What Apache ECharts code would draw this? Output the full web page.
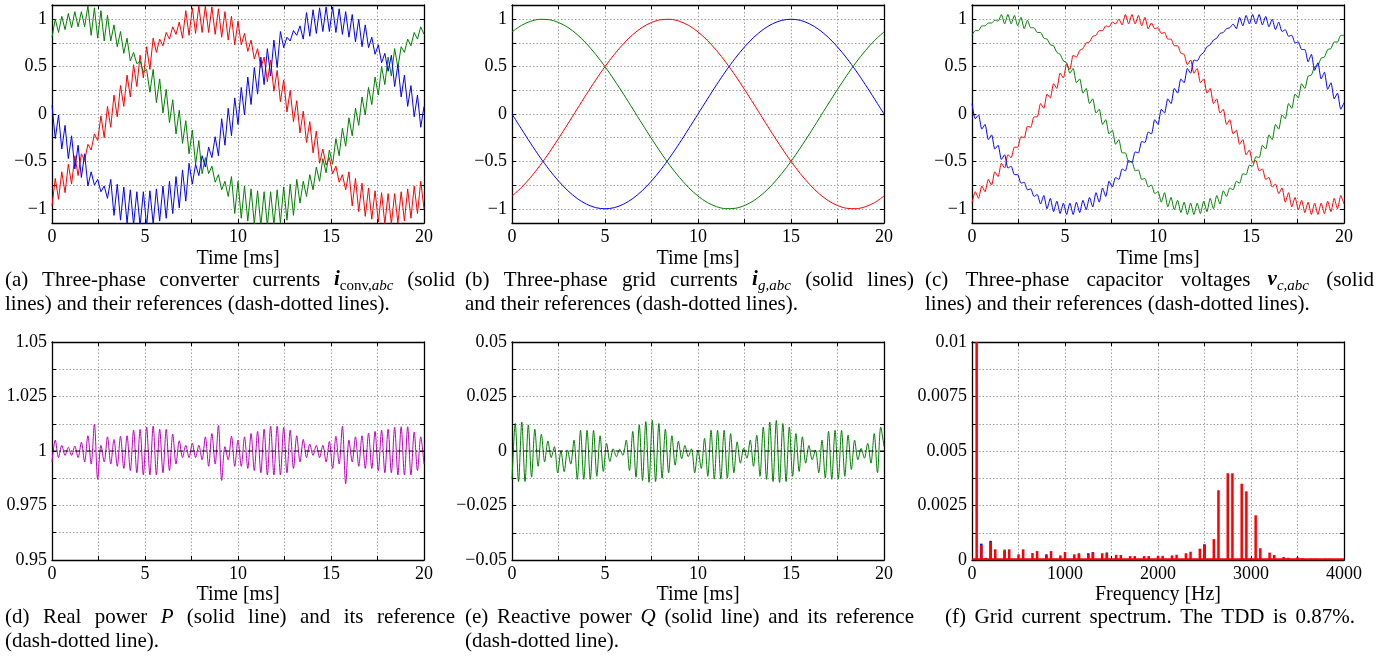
<!DOCTYPE html>
<html><head><meta charset="utf-8">
<script src="https://cdn.jsdelivr.net/npm/echarts@6/dist/echarts.min.js"></script>
<style>html,body{margin:0;padding:0;background:#fff}#c{width:1395px;height:656px}</style>
</head><body><div id="c"></div>
<script>
// ================= DATA =================
// sampling of the rippled waveforms: one value per half ripple period (0..20 ms)
const rippleSampleMs = 20 / 114;
const smoothSampleMs = 0.5;

// (a) converter currents
const iConvA = [-0.97,-0.68,-0.90,-0.61,-0.83,-0.53,-0.74,-0.44,-0.65,-0.42,-0.49,-0.32,-0.38,-0.21,-0.28,-0.02,-0.25,0.08,-0.14,0.20,-0.03,0.30,0.08,0.41,0.18,0.52,0.29,0.62,0.38,0.71,0.47,0.80,0.65,0.79,0.72,0.86,0.79,0.92,0.84,0.97,0.80,1.09,0.83,1.12,0.85,1.14,0.86,1.14,0.86,1.13,0.84,1.11,0.81,1.08,0.78,1.03,0.73,0.98,0.73,0.85,0.66,0.78,0.58,0.69,0.49,0.60,0.34,0.57,0.24,0.46,0.13,0.36,0.02,0.25,-0.08,0.14,-0.20,0.03,-0.30,-0.08,-0.41,-0.18,-0.52,-0.37,-0.54,-0.46,-0.63,-0.55,-0.72,-0.64,-0.80,-0.61,-0.97,-0.68,-1.03,-0.73,-1.08,-0.78,-1.11,-0.81,-1.14,-0.83,-1.16,-0.84,-1.16,-0.84,-1.15,-0.82,-1.13,-0.79,-1.10,-0.76,-1.05,-0.71,-1.00];
const iConvB = [0.81,1.00,0.86,1.03,0.89,1.06,0.91,1.08,0.92,1.08,0.92,1.14,0.83,1.12,0.80,1.09,0.77,1.04,0.77,0.94,0.71,0.87,0.64,0.80,0.56,0.65,0.53,0.56,0.44,0.47,0.23,0.47,0.12,0.37,0.01,0.26,-0.09,0.15,-0.21,0.04,-0.31,-0.07,-0.42,-0.17,-0.53,-0.28,-0.63,-0.46,-0.63,-0.55,-0.72,-0.64,-0.80,-0.71,-0.87,-0.66,-1.05,-0.71,-1.10,-0.76,-1.13,-0.79,-1.16,-0.81,-1.18,-0.82,-1.18,-0.82,-1.17,-0.80,-1.15,-0.77,-1.12,-0.74,-1.07,-0.69,-0.94,-0.71,-0.87,-0.64,-0.80,-0.56,-0.71,-0.47,-0.62,-0.38,-0.53,-0.26,-0.44,-0.15,-0.34,-0.04,-0.23,0.06,-0.12,0.18,-0.01,0.28,0.10,0.39,0.20,0.50,0.31,0.60,0.40,0.69,0.49,0.71,0.65,0.79,0.72,0.86,0.79,0.92,0.84];
const iConvC = [0.09,-0.26,-0.01,-0.37,-0.12,-0.47,-0.23,-0.58,-0.33,-0.67,-0.42,-0.76,-0.61,-0.75,-0.69,-0.82,-0.76,-0.89,-0.69,-1.07,-0.74,-1.12,-0.77,-1.15,-0.80,-1.17,-0.82,-1.18,-0.82,-1.18,-0.81,-1.16,-0.79,-1.13,-0.76,-1.10,-0.71,-1.05,-0.66,-0.99,-0.59,-0.92,-0.52,-0.74,-0.53,-0.65,-0.44,-0.56,-0.35,-0.46,-0.24,-0.44,-0.05,-0.33,0.06,-0.23,0.17,-0.11,0.28,-0.01,0.39,0.10,0.49,0.21,0.60,0.31,0.69,0.40,0.78,0.49,0.87,0.70,0.81,0.77,0.88,0.83,0.93,0.79,1.07,0.82,1.10,0.85,1.12,0.87,1.13,0.87,1.13,0.86,1.11,0.84,1.08,0.81,1.05,0.76,1.00,0.71,0.94,0.70,0.81,0.63,0.73,0.54,0.64,0.45,0.62,0.29,0.52,0.18,0.41,0.08,0.30,-0.03,0.20,-0.14,0.08];

// (b) grid currents (0.5 ms samples)
const iGridA = [-0.866,-0.777,-0.669,-0.545,-0.407,-0.259,-0.105,0.052,0.208,0.358,0.5,0.629,0.743,0.839,0.914,0.966,0.995,0.999,0.978,0.934,0.866,0.777,0.669,0.545,0.407,0.259,0.105,-0.052,-0.208,-0.358,-0.5,-0.629,-0.743,-0.839,-0.914,-0.966,-0.995,-0.999,-0.978,-0.934,-0.866];
const iGridB = [0.866,0.934,0.978,0.999,0.995,0.966,0.914,0.839,0.743,0.629,0.5,0.358,0.208,0.052,-0.105,-0.259,-0.407,-0.545,-0.669,-0.777,-0.866,-0.934,-0.978,-0.999,-0.995,-0.966,-0.914,-0.839,-0.743,-0.629,-0.5,-0.358,-0.208,-0.052,0.105,0.259,0.407,0.545,0.669,0.777,0.866];
const iGridC = [0,-0.156,-0.309,-0.454,-0.588,-0.707,-0.809,-0.891,-0.951,-0.988,-1,-0.988,-0.951,-0.891,-0.809,-0.707,-0.588,-0.454,-0.309,-0.156,0,0.156,0.309,0.454,0.588,0.707,0.809,0.891,0.951,0.988,1,0.988,0.951,0.891,0.809,0.707,0.588,0.454,0.309,0.156,0];

// (c) capacitor voltages
const vCapA = [-0.94,-0.82,-0.89,-0.76,-0.82,-0.69,-0.75,-0.61,-0.66,-0.52,-0.57,-0.43,-0.46,-0.35,-0.35,-0.24,-0.25,-0.13,-0.14,-0.03,-0.03,0.11,0.06,0.21,0.17,0.32,0.27,0.43,0.38,0.53,0.47,0.62,0.60,0.67,0.69,0.75,0.76,0.82,0.83,0.88,0.88,0.93,0.92,0.97,0.95,1.00,0.94,1.05,0.95,1.05,0.95,1.04,0.93,1.02,0.90,0.96,0.90,0.91,0.85,0.86,0.79,0.79,0.72,0.72,0.64,0.63,0.52,0.57,0.43,0.48,0.33,0.37,0.22,0.27,0.11,0.16,0.01,0.05,-0.11,-0.06,-0.21,-0.17,-0.32,-0.27,-0.43,-0.38,-0.51,-0.49,-0.60,-0.58,-0.69,-0.67,-0.77,-0.74,-0.84,-0.78,-0.93,-0.83,-0.98,-0.88,-1.01,-0.91,-1.04,-0.93,-1.06,-0.94,-1.06,-0.94,-1.05,-0.92,-1.03,-0.89,-1.00,-0.86,-0.95];
const vCapB = [0.83,0.88,0.88,0.93,0.93,0.96,0.96,0.99,0.98,1.05,0.95,1.05,0.95,1.04,0.93,1.02,0.90,0.99,0.91,0.91,0.86,0.86,0.80,0.79,0.73,0.72,0.65,0.63,0.56,0.54,0.43,0.48,0.33,0.37,0.22,0.27,0.11,0.16,0.01,0.05,-0.11,-0.06,-0.21,-0.17,-0.32,-0.27,-0.41,-0.41,-0.51,-0.50,-0.60,-0.59,-0.69,-0.68,-0.77,-0.75,-0.84,-0.82,-0.93,-0.83,-0.98,-0.88,-1.01,-0.91,-1.04,-0.93,-1.06,-0.94,-1.06,-0.94,-1.05,-0.92,-1.03,-0.89,-1.00,-0.86,-0.95,-0.81,-0.87,-0.78,-0.80,-0.71,-0.73,-0.63,-0.64,-0.54,-0.55,-0.45,-0.46,-0.33,-0.37,-0.22,-0.27,-0.11,-0.16,-0.01,-0.05,0.11,0.06,0.21,0.17,0.32,0.27,0.40,0.41,0.50,0.51,0.59,0.60,0.68,0.69,0.76,0.76,0.83,0.83];
const vCapC = [0.11,-0.05,-0.01,-0.16,-0.11,-0.27,-0.22,-0.37,-0.33,-0.48,-0.43,-0.57,-0.55,-0.64,-0.64,-0.73,-0.72,-0.80,-0.79,-0.87,-0.85,-0.95,-0.86,-1.00,-0.89,-1.03,-0.92,-1.05,-0.94,-1.06,-0.94,-1.06,-0.93,-1.04,-0.91,-1.01,-0.88,-0.98,-0.83,-0.93,-0.78,-0.87,-0.71,-0.77,-0.67,-0.69,-0.58,-0.60,-0.49,-0.51,-0.40,-0.41,-0.29,-0.30,-0.19,-0.21,-0.06,-0.11,0.05,0.01,0.16,0.11,0.27,0.22,0.37,0.33,0.48,0.43,0.57,0.56,0.62,0.65,0.71,0.73,0.78,0.80,0.85,0.86,0.90,0.91,0.95,0.90,1.02,0.93,1.04,0.95,1.05,0.95,1.05,0.94,1.03,0.92,1.00,0.89,0.97,0.87,0.89,0.82,0.83,0.75,0.76,0.68,0.68,0.55,0.63,0.46,0.54,0.37,0.44,0.26,0.33,0.16,0.22,0.05,0.12];

// (d) real power and (e) reactive power
const realPower = [0.995,1.005,0.997,1.0026,0.998,1.0017,0.998,1.0023,0.997,1.004,0.995,1.007,0.994,1.0123,0.987,1.0026,0.995,1.0065,0.994,1.0053,0.993,1.0068,0.992,1.007,0.991,1.0096,0.99,1.0099,0.989,1.011,0.989,1.0114,0.989,1.01,0.99,1.0099,0.991,1.0078,0.994,1.0047,0.997,1.0026,0.997,1.0035,0.997,1.0026,0.996,1.0065,0.993,1.008,0.994,1.0117,0.9865,1.002,0.996,1.0068,0.993,1.005,0.993,1.0065,0.992,1.008,0.991,1.009,0.99,1.01,0.989,1.0114,0.989,1.0114,0.989,1.0108,0.99,1.0096,0.992,1.007,0.995,1.0053,0.997,1.0032,0.998,1.0026,0.997,1.0026,0.995,1.0044,0.992,1.0068,0.994,1.0114,0.985,1.005,0.995,1.0065,0.993,1.007,0.992,1.0082,0.992,1.009,0.991,1.0096,0.99,1.01,0.99,1.0108,0.989,1.0111,0.989,1.0111,0.989,1.0087,0.991,1.0065,0.994];
const reactivePower = [-0.013,0.0126,-0.014,0.0133,-0.014,0.012,-0.012,0.01,-0.007,0.0077,-0.005,0.0046,-0.003,0.002,-0.01,0,-0.0095,0.0005,-0.006,0.005,-0.013,0.0095,-0.013,0.0095,-0.013,0.0095,-0.0116,0.007,-0.0094,0.0035,-0.0048,0.001,-0.0026,0.0008,-0.002,0.005,-0.009,0.009,-0.012,0.012,-0.0135,0.0135,-0.0144,0.014,-0.014,0.0126,-0.0125,0.01,-0.01,0.007,-0.0065,0.0045,-0.0035,0.0025,-0.0026,0.001,-0.01,0.0005,-0.008,0.0058,-0.0116,0.0095,-0.0129,0.0095,-0.0129,0.0095,-0.0125,0.008,-0.01,0.0042,-0.0056,0.0012,-0.0033,0.005,-0.007,0.0073,-0.0116,0.011,-0.013,0.0133,-0.014,0.014,-0.0144,0.0126,-0.014,0.011,-0.0116,0.008,-0.0094,0.0065,-0.0056,0.0025,-0.004,0.0005,-0.01,0.005,-0.0124,0.009,-0.013,0.0095,-0.0129,0.0095,-0.0116,0.0073,-0.0085,0.005,-0.004,0.0012,-0.0033,0.0035,-0.0056,0.008,-0.01,0.011,0.002];
const refTime = [0, 20];
const realPowerRef = [1, 1];
const reactivePowerRef = [0, 0];

// (f) grid current spectrum: harmonics of 50 Hz (order 1..79)
const fundamentalHz = 50;
const specRed = [1.0,0.00068,0.00005,0.00082,0.00049,0.00003,0.00042,0.00049,0.00003,0.00026,0.00049,0.00003,0.00032,0.00041,0.00003,0.0002,0.00041,0.00003,0.00021,0.00037,0.00003,0.00026,0.00028,0.00003,0.00026,0.00035,0.00003,0.00031,0.00032,0.00003,0.00024,0.00023,0.00003,0.00018,0.00018,0.00003,0.00018,0.00018,0.00003,0.00019,0.00019,0.00003,0.00021,0.00024,0.00003,0.00031,0.00038,0.00003,0.00052,0.0007,0.00003,0.00096,0.0032,0.00003,0.00398,0.00398,0.00003,0.0035,0.00315,0.0001,0.00205,0.00054,0.00003,0.00034,0.00023,0.00003,0.00014,0.0001,0.00002,0.00012,0.00008,0.00002,0.00006,0.00006,0.00002,0.00006,0.00006,0.00002,0.00002];
const specBlueHz = [100, 200, 800, 1250, 1300, 2500];
const specBlue = [0.00075, 0.00088, 0.00026, 0.00031, 0.00036, 0.00072];
const specGreenHz = [150, 350, 1150, 1450];
const specGreen = [0.0001, 0.00048, 0.00031, 0.00035];
const specFloorHz = [0, 4000];
const specFloor = [0.00003, 0.00003];

// axis ticks
const timeAxis = {min: 0, max: 20, interval: 2.5, labelEvery: 5};
const freqAxis = {min: 0, max: 4000, interval: 500, labelEvery: 1000};
const phaseTicks = [-1, -0.75, -0.5, -0.25, 0, 0.25, 0.5, 0.75, 1];
const phaseAxis = {min: -1.15, max: 1.15, ticks: phaseTicks, labelEvery: 0.5};
const pAxis = {min: 0.95, max: 1.05, interval: 0.0125, labelEvery: 0.025};
const qAxis = {min: -0.05, max: 0.05, interval: 0.0125, labelEvery: 0.025};
const specAxis = {min: 0, max: 0.01, interval: 0.00125, labelEvery: 0.0025};

// ================= LAYOUT / STYLE =================
const SERIF = '"Liberation Serif", "Times New Roman", serif';
const RED = '#ff0000', GREEN = '#008000', BLUE = '#0000ff', MAG = '#c000c0';

const panels = [
  {left: 52,  top: 5,   x: timeAxis, y: phaseAxis, name: 'Time [ms]'},
  {left: 512, top: 5,   x: timeAxis, y: phaseAxis, name: 'Time [ms]'},
  {left: 972, top: 5,   x: timeAxis, y: phaseAxis, name: 'Time [ms]'},
  {left: 52,  top: 342, x: timeAxis, y: pAxis, name: 'Time [ms]'},
  {left: 512, top: 342, x: timeAxis, y: qAxis, name: 'Time [ms]'},
  {left: 972, top: 342, x: freqAxis, y: specAxis, name: 'Frequency [Hz]'}
];

function fmt(every) {
  return v => {
    const r = v / every;
    if (Math.abs(r - Math.round(r)) > 1e-6) return '';
    const s = String(+v.toFixed(6));
    return s === '-0' ? '0' : s.replace('-', '\u2212');
  };
}
function axisBase(cfg, gi, pos, main, extra) {
  const ax = Object.assign({
    type: 'value', gridIndex: gi, position: pos,
    min: cfg.min, max: cfg.max,
    axisLine: {show: true, onZero: false, lineStyle: {color: '#000', width: 1.3}},
    axisTick: {show: true, inside: true, length: 4, lineStyle: {color: '#000', width: 1}},
    splitLine: {show: main, lineStyle: {type: [1.5, 2], color: '#a0a0a0', width: 1}},
    axisLabel: main ? {show: true, formatter: fmt(cfg.labelEvery), fontFamily: SERIF, fontSize: 18, color: '#000'} : {show: false}
  }, extra || {});
  if (cfg.ticks) {
    ax.axisTick.customValues = cfg.ticks;
    if (main) ax.axisLabel.customValues = cfg.ticks.filter(v => Math.abs(v / cfg.labelEvery - Math.round(v / cfg.labelEvery)) < 1e-6);
  } else {
    ax.interval = cfg.interval;
  }
  return ax;
}

const grids = [], xAxes = [], yAxes = [];
panels.forEach((p, gi) => {
  grids.push({left: p.left, top: p.top, width: 372, height: 218, containLabel: false});
  xAxes.push(axisBase(p.x, gi, 'bottom', true, {
    name: p.name, nameLocation: 'middle', nameGap: gi < 3 ? 26 : 25,
    nameTextStyle: {fontFamily: SERIF, fontSize: 20, color: '#000'},
  }));
  xAxes[xAxes.length - 1].axisLabel.margin = 5;
  xAxes.push(axisBase(p.x, gi, 'top', false));
  yAxes.push(axisBase(p.y, gi, 'left', true));
  yAxes[yAxes.length - 1].axisLabel.margin = 5;
  yAxes.push(axisBase(p.y, gi, 'right', false));
});

function timed(vals, step) { return vals.map((v, i) => [+(i * step).toFixed(5), v]); }
function zipXY(xs, ys) { return xs.map((x, i) => [x, ys[i]]); }
function lineS(gi, data, color, extra) {
  return Object.assign({
    type: 'line', xAxisIndex: 2 * gi, yAxisIndex: 2 * gi, data,
    showSymbol: false, symbol: 'none', clip: true, animation: false,
    lineStyle: {color, width: 1}, itemStyle: {color}
  }, extra || {});
}
const refStyle = {color: '#000', width: 1.2, type: [5, 2.5, 1.5, 2.5]};

const series = [
  lineS(0, timed(iConvA, rippleSampleMs), RED),
  lineS(0, timed(iConvB, rippleSampleMs), GREEN),
  lineS(0, timed(iConvC, rippleSampleMs), BLUE),
  lineS(1, timed(iGridA, smoothSampleMs), RED, {smooth: 0.3}),
  lineS(1, timed(iGridB, smoothSampleMs), GREEN, {smooth: 0.3}),
  lineS(1, timed(iGridC, smoothSampleMs), BLUE, {smooth: 0.3}),
  lineS(2, timed(vCapA, rippleSampleMs), RED, {smooth: 0.2}),
  lineS(2, timed(vCapB, rippleSampleMs), GREEN, {smooth: 0.2}),
  lineS(2, timed(vCapC, rippleSampleMs), BLUE, {smooth: 0.2}),
  lineS(3, timed(realPower, rippleSampleMs), MAG, {smooth: 0.3}),
  lineS(3, zipXY(refTime, realPowerRef), '#000', {lineStyle: refStyle}),
  lineS(4, timed(reactivePower, rippleSampleMs), GREEN, {smooth: 0.3}),
  lineS(4, zipXY(refTime, reactivePowerRef), '#000', {lineStyle: refStyle}),
  lineS(5, zipXY(specFloorHz, specFloor), RED, {lineStyle: {color: RED, width: 2}}),
];
const barCommon = {type: 'bar', xAxisIndex: 10, yAxisIndex: 10, barWidth: 2.5, barGap: '-100%', animation: false, clip: true};
series.push(Object.assign({}, barCommon, {itemStyle: {color: BLUE}, data: zipXY(specBlueHz, specBlue)}));
series.push(Object.assign({}, barCommon, {itemStyle: {color: GREEN}, data: zipXY(specGreenHz, specGreen)}));
series.push(Object.assign({}, barCommon, {itemStyle: {color: RED}, data: specRed.map((v, i) => [(i + 1) * fundamentalHz, v])}));

// ================= CAPTIONS =================
const CAP = 21, SUB = 15;
const fonts = {
  n: `${CAP}px ${SERIF}`, i: `italic ${CAP}px ${SERIF}`, bi: `italic bold ${CAP}px ${SERIF}`,
  s: `${SUB}px ${SERIF}`, si: `italic ${SUB}px ${SERIF}`
};
const sizes = {n: CAP, i: CAP, bi: CAP, s: SUB, si: SUB};
const drops = {n: 0, i: 0, bi: 0, s: 4, si: 4};
const mctx = document.createElement('canvas').getContext('2d');
function segs(word) {
  const out = []; const re = /\{(\w+):([^}]*)\}|([^{]+)/g; let m;
  while ((m = re.exec(word))) out.push(m[1] ? [m[1], m[2]] : ['n', m[3]]);
  return out;
}
function width(st, t) { mctx.font = fonts[st]; return mctx.measureText(t).width; }
const captionLines = [
  {x0: 5, x1: 455, y: 287, j: true, t: '(a) Three-phase converter currents {bi:i}{s:conv,}{si:abc} (solid'},
  {x0: 5, x1: 455, y: 311, j: false, t: 'lines) and their references (dash-dotted lines).'},
  {x0: 465, x1: 914, y: 287, j: true, t: '(b) Three-phase grid currents {bi:i}{si:g,abc} (solid lines)'},
  {x0: 465, x1: 914, y: 311, j: false, t: 'and their references (dash-dotted lines).'},
  {x0: 925, x1: 1374, y: 287, j: true, t: '(c) Three-phase capacitor voltages {bi:v}{si:c,abc} (solid'},
  {x0: 925, x1: 1374, y: 311, j: false, t: 'lines) and their references (dash-dotted lines).'},
  {x0: 5, x1: 455, y: 624, j: true, t: '(d) Real power {i:P} (solid line) and its reference'},
  {x0: 5, x1: 455, y: 648, j: false, t: '(dash-dotted line).'},
  {x0: 465, x1: 914, y: 624, j: true, t: '(e) Reactive power {i:Q} (solid line) and its reference'},
  {x0: 465, x1: 914, y: 648, j: false, t: '(dash-dotted line).'},
  {x0: 945, x1: 1355, y: 624, j: true, t: '(f) Grid current spectrum. The TDD is 0.87%.'}
];
const graphics = [];
captionLines.forEach(L => {
  const words = L.t.split(' ').map(segs);
  const widths = words.map(w => w.reduce((a, s) => a + width(s[0], s[1]), 0));
  const total = widths.reduce((a, b) => a + b, 0);
  const gap = L.j ? (L.x1 - L.x0 - total) / (words.length - 1) : width('n', ' ');
  let x = L.x0;
  words.forEach((w, k) => {
    let cx = x;
    w.forEach(([st, t]) => {
      const sz = sizes[st];
      graphics.push({type: 'text', x: cx, y: L.y + drops[st] - 0.33 * sz, silent: true,
        style: {text: t, font: fonts[st], fill: '#000', align: 'left', verticalAlign: 'middle'}});
      cx += width(st, t);
    });
    x += widths[k] + gap;
  });
});

const chart = echarts.init(document.getElementById('c'), null, {renderer: 'canvas'});
chart.setOption({
  animation: false,
  backgroundColor: '#fff',
  grid: grids, xAxis: xAxes, yAxis: yAxes, series,
  graphic: {elements: graphics}
});
</script></body></html>
